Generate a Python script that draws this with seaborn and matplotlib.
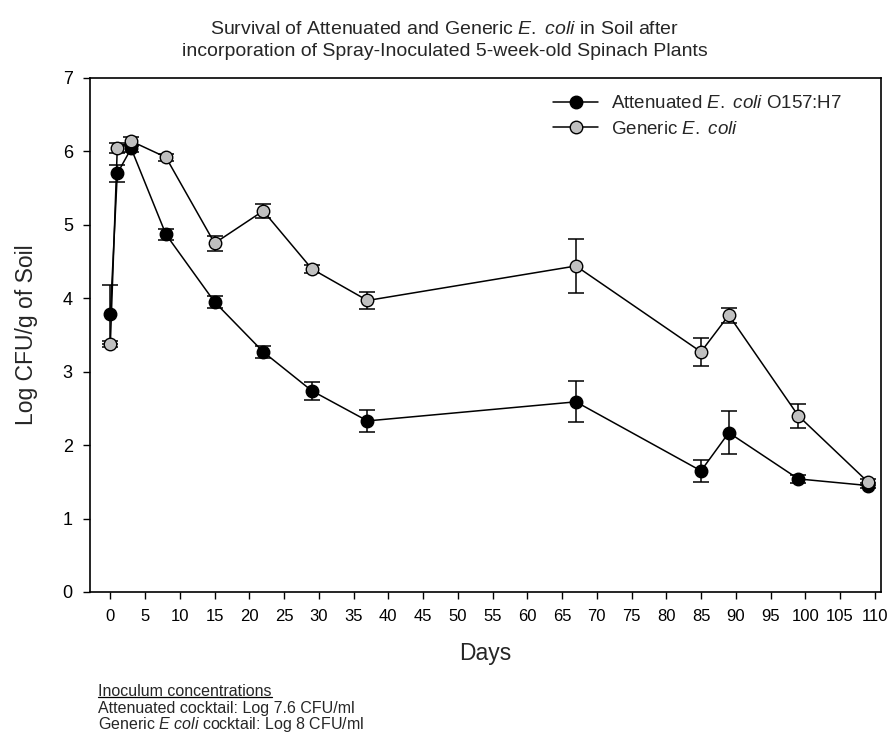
import matplotlib
matplotlib.use("Agg")
import matplotlib.pyplot as plt
import seaborn as sns
import pandas as pd
from matplotlib import font_manager

days_att = [0, 1, 3, 8, 15, 22, 29, 37, 67, 85, 89, 99, 109]
att_mean = [3.78, 5.70, 6.04, 4.87, 3.95, 3.27, 2.74, 2.33, 2.59, 1.65, 2.17, 1.54, 1.45]
att_err = [0.40, 0.12, 0.05, 0.08, 0.08, 0.08, 0.12, 0.15, 0.28, 0.15, 0.29, 0.06, 0.04]

days_gen = [0, 1, 3, 8, 15, 22, 29, 37, 67, 85, 89, 99, 109]
gen_mean = [3.38, 6.05, 6.14, 5.92, 4.75, 5.19, 4.40, 3.97, 4.44, 3.27, 3.77, 2.40, 1.50]
gen_err = [0.04, 0.07, 0.06, 0.05, 0.10, 0.09, 0.05, 0.11, 0.37, 0.19, 0.10, 0.16, 0.04]

label_att = r"Attenuated $\it{E.}$ $\it{coli}$ O157:H7"
label_gen = r"Generic $\it{E.}$ $\it{coli}$"

sns.set_theme(style="ticks")
plt.rcParams["font.family"] = ["Liberation Sans", "DejaVu Sans"]
plt.rcParams["mathtext.fontset"] = "custom"
plt.rcParams["mathtext.rm"] = "Liberation Sans"
plt.rcParams["mathtext.it"] = "Liberation Sans:italic"

names = {f.name for f in font_manager.fontManager.ttflist}
narrow = "Liberation Sans Narrow" if "Liberation Sans Narrow" in names else "Liberation Sans"

df = pd.concat([
    pd.DataFrame({"Days": days_att, "val": att_mean, "err": att_err, "series": label_att}),
    pd.DataFrame({"Days": days_gen, "val": gen_mean, "err": gen_err, "series": label_gen}),
])

W, H = 889, 737
fig = plt.figure(figsize=(W / 100, H / 100), dpi=100)
ax = fig.add_axes([89.5 / W, 1 - 592 / H, (881 - 89.5) / W, (592 - 78) / H])

colors = {label_att: "black", label_gen: "#c0c0c0"}

sns.lineplot(data=df, x="Days", y="val", hue="series", palette=colors,
             estimator=None, sort=False, ax=ax, legend=False)
for line, name in zip(ax.get_lines(), [label_att, label_gen]):
    line.set_color("black")
    line.set_linewidth(1.1)
    line.set_marker("o")
    line.set_markersize(9)
    line.set_markerfacecolor(colors[name])
    line.set_markeredgecolor("black")
    line.set_markeredgewidth(1.0)
    line.set_label(name)
    line.set_zorder(3)

for name, sub in df.groupby("series", sort=False):
    ax.errorbar(sub["Days"], sub["val"], yerr=sub["err"], fmt="none",
                ecolor="black", elinewidth=1.1, capsize=5.5, capthick=1.1, zorder=2)

ax.set_xlim(-3.0, 110.9)
ax.set_ylim(0, 7)
ax.set_xticks(list(range(0, 111, 5)))
ax.set_yticks(list(range(0, 8)))
ax.tick_params(axis="both", direction="out", length=5, width=1, pad=7, colors="black")
ax.tick_params(axis="y", labelsize=13)
ax.tick_params(axis="x", labelsize=12)
for lab in ax.get_xticklabels():
    lab.set_family([narrow, "Liberation Sans"])
for s in ax.spines.values():
    s.set_visible(True)
    s.set_color("black")
    s.set_linewidth(1.2)

ax.set_xlabel("Days", fontsize=16.5, labelpad=13)
ax.set_ylabel("Log CFU/g of Soil", fontsize=16.5, labelpad=18)

fig.text(0.5, 1 - 30 / H, "Survival of Attenuated and Generic $\\it{E.}$ $\\it{coli}$ in Soil after",
         ha="center", va="center", fontsize=14)
fig.text(0.5, 1 - 52 / H, "incorporation of Spray-Inoculated 5-week-old Spinach Plants",
         ha="center", va="center", fontsize=14)

handles = ax.get_lines()[:2]
leg = fig.legend(handles=handles, labels=[label_att, label_gen],
                 loc="upper left", bbox_to_anchor=(553 / W, 1 - 95 / H),
                 frameon=False, fontsize=13.5, handlelength=2.4, handletextpad=0.7,
                 labelspacing=0.45, borderpad=0, borderaxespad=0)

x0 = 98 / W
t = fig.text(x0, 1 - 691 / H, "Inoculum concentrations", fontsize=11.5, va="center", ha="left")
fig.canvas.draw()
bb = t.get_window_extent(renderer=fig.canvas.get_renderer())
inv = fig.transFigure.inverted()
(bx0, by0), (bx1, by1) = inv.transform([[bb.x0, bb.y0], [bb.x1, bb.y1]])
fig.add_artist(plt.Line2D([bx0, bx1], [by0 + 0.002, by0 + 0.002], color="black",
                          linewidth=0.9, transform=fig.transFigure))
fig.text(x0, 1 - 708 / H, "Attenuated cocktail: Log 7.6 CFU/ml", fontsize=11.5, va="center", ha="left")
fig.text(x0, 1 - 725 / H, r"Generic $\it{E}$ $\it{coli}$ cocktail: Log 8 CFU/ml", fontsize=11.5, va="center", ha="left")

fig.savefig("out.png", dpi=100)
